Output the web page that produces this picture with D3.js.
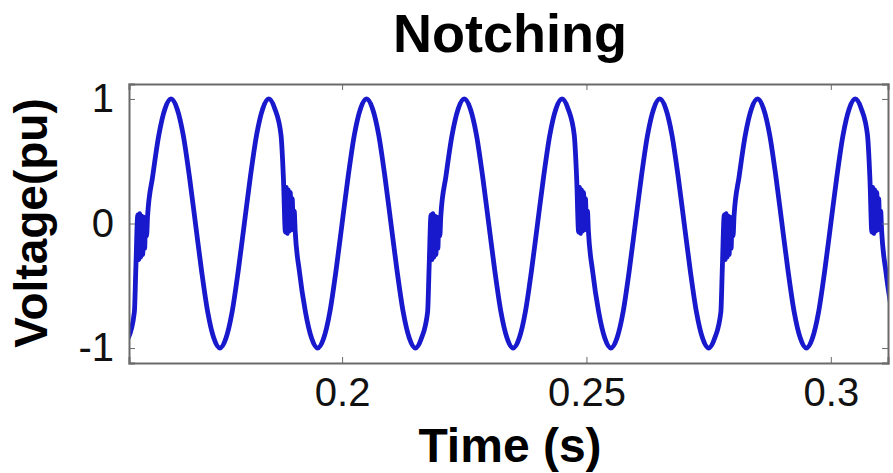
<!DOCTYPE html>
<html>
<head>
<meta charset="utf-8">
<script src="https://cdn.jsdelivr.net/npm/d3@7"></script>
<style>
  html, body { margin: 0; padding: 0; background: #fff; }
  svg { display: block; }
  .tick text { font-family: "Liberation Sans", Arial, sans-serif; fill: #111; }
</style>
</head>
<body>
<svg id="chart" width="893" height="473"></svg>
<script>
// Voltage samples (pu), taken every 1.25 ms starting at t = 0.15625 s
const sampleStart = 0.15625;
const sampleStep = 0.00125;
const voltage = [
  -0.92, -0.71, -0.38, 0, 0.38, 0.71, 0.92, 1, 0.92, 0.71, 0.38, 0, -0.38, -0.71, -0.92, -1,
  -0.92, -0.71, -0.38, 0, 0.38, 0.71, 0.92, 1, 0.92, 0.71, 0.38, 0, -0.38, -0.71, -0.92, -1,
  -0.92, -0.71, -0.38, 0, 0.38, 0.71, 0.92, 1, 0.92, 0.71, 0.38, 0, -0.38, -0.71, -0.92, -1,
  -0.92, -0.71, -0.38, 0, 0.38, 0.71, 0.92, 1, 0.92, 0.71, 0.38, 0, -0.38, -0.71, -0.92, -1,
  -0.92, -0.71, -0.38, 0, 0.38, 0.71, 0.92, 1, 0.92, 0.71, 0.38, 0, -0.38, -0.71, -0.92, -1,
  -0.92, -0.71, -0.38, 0, 0.38, 0.71, 0.92, 1, 0.92, 0.71, 0.38, 0, -0.38, -0.71, -0.92, -1,
  -0.92, -0.71, -0.38, 0, 0.38, 0.71, 0.92, 1, 0.92, 0.71, 0.38, 0, -0.38, -0.71, -0.92, -1,
  -0.92, -0.71, -0.38, 0, 0.38, 0.71, 0.92, 1, 0.92, 0.71, 0.38, 0, -0.38, -0.71
];

// Commutation notches: centre times (s) on rising and falling edges
const risingNotchTimes = [0.1591, 0.2191, 0.2791];
const fallingNotchTimes = [0.1893, 0.2493, 0.3093];
// Ringing inside each notch: time offsets from the centre (s) and voltage (pu)
const notchOffsets = [-0.0013, -0.0009, -0.0007, -0.0005, -0.0003, -0.0001, 0.0001, 0.0003, 0.0005, 0.0007, 0.0009, 0.0011];
const risingNotchValues = [-0.36, 0.07, -0.29, 0.08, -0.27, 0.06, -0.25, 0.05, -0.20, 0.04, -0.10, 0.06];
const fallingNotchValues = [0.36, -0.07, 0.29, -0.08, 0.27, -0.06, 0.25, -0.05, 0.20, -0.04, 0.10, -0.06];

const xTicks = [0.2, 0.25, 0.3];
const xTickLabels = ["0.2", "0.25", "0.3"];
const yTicks = [-1, 0, 1];
const yTickLabels = ["-1", "0", "1"];

const titleText = "Notching";
const xLabel = "Time (s)";
const yLabel = "Voltage(pu)";

// ---- layout ----
const plot = { left: 129, right: 888, top: 84, bottom: 363 };
const svg = d3.select("#chart");

const x = d3.scaleLinear().domain([0.1564, 0.3117]).range([plot.left, plot.right]);
const y = d3.scaleLinear().domain([-1.12, 1.12]).range([plot.bottom, plot.top]);

// ---- build the waveform: base samples with the notch bursts spliced in ----
const notchSpans = [];
const notchPoints = [];
function addNotches(times, values) {
  times.forEach(c => {
    notchSpans.push([c + notchOffsets[0], c + notchOffsets[notchOffsets.length - 1]]);
    notchOffsets.forEach((o, i) => notchPoints.push({ t: c + o, v: values[i] }));
  });
}
addNotches(risingNotchTimes, risingNotchValues);
addNotches(fallingNotchTimes, fallingNotchValues);

const basePoints = voltage.map((v, i) => ({ t: sampleStart + i * sampleStep, v }))
  .filter(p => !notchSpans.some(([a, b]) => p.t >= a - 1e-9 && p.t <= b + 1e-9));

const points = basePoints.concat(notchPoints).sort((a, b) => a.t - b.t);

// ---- clip + line ----
svg.append("defs").append("clipPath").attr("id", "plot-clip")
  .append("rect")
  .attr("x", plot.left).attr("y", plot.top)
  .attr("width", plot.right - plot.left).attr("height", plot.bottom - plot.top);

const line = d3.line()
  .x(d => x(d.t))
  .y(d => y(d.v))
  .curve(d3.curveMonotoneX);

svg.append("path")
  .datum(points)
  .attr("clip-path", "url(#plot-clip)")
  .attr("fill", "none")
  .attr("stroke", "#1818cc")
  .attr("stroke-width", 4.8)
  .attr("stroke-linejoin", "round")
  .attr("stroke-linecap", "round")
  .attr("d", line);

// ---- axes (MATLAB-style box with inward ticks) ----
const axisColor = "#6a6a6a";
const tickFont = 40;

const bottomAxis = d3.axisBottom(x).tickValues(xTicks)
  .tickFormat((d, i) => xTickLabels[i]).tickSize(-6).tickPadding(15);
const topAxis = d3.axisTop(x).tickValues(xTicks).tickFormat("").tickSize(-6);
const leftAxis = d3.axisLeft(y).tickValues(yTicks)
  .tickFormat((d, i) => yTickLabels[i]).tickSize(-6).tickPadding(15);
const rightAxis = d3.axisRight(y).tickValues(yTicks).tickFormat("").tickSize(-6);

function styleAxis(g) {
  g.select(".domain").attr("stroke", axisColor).attr("stroke-width", 2);
  g.selectAll(".tick line").attr("stroke", axisColor).attr("stroke-width", 1);
  g.selectAll(".tick text").attr("font-size", tickFont);
}

svg.append("g").attr("transform", `translate(0,${plot.bottom})`).call(bottomAxis).call(styleAxis);
svg.append("g").attr("transform", `translate(0,${plot.top})`).call(topAxis).call(styleAxis);
svg.append("g").attr("transform", `translate(${plot.left},0)`).call(leftAxis).call(styleAxis);
svg.append("g").attr("transform", `translate(${plot.right},0)`).call(rightAxis).call(styleAxis);

// ---- title and axis labels ----
svg.append("text")
  .attr("x", 510).attr("y", 52)
  .attr("text-anchor", "middle")
  .attr("font-family", "Liberation Sans, Arial, sans-serif")
  .attr("font-weight", "bold")
  .attr("font-size", 54)
  .attr("fill", "#000")
  .text(titleText);

svg.append("text")
  .attr("x", 510).attr("y", 462)
  .attr("text-anchor", "middle")
  .attr("font-family", "Liberation Sans, Arial, sans-serif")
  .attr("font-weight", "bold")
  .attr("font-size", 48)
  .attr("fill", "#000")
  .text(xLabel);

svg.append("text")
  .attr("transform", "translate(47,223) rotate(-90)")
  .attr("text-anchor", "middle")
  .attr("font-family", "Liberation Sans, Arial, sans-serif")
  .attr("font-weight", "bold")
  .attr("font-size", 46)
  .attr("fill", "#000")
  .text(yLabel);
</script>
</body>
</html>
